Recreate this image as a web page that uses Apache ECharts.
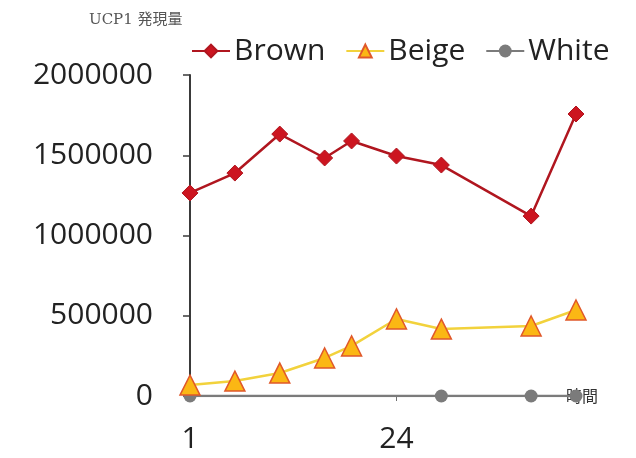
<!DOCTYPE html>
<html>
<head>
<meta charset="utf-8">
<script src="https://cdn.jsdelivr.net/npm/echarts@6/dist/echarts.min.js"></script>
<style>html,body{margin:0;padding:0;background:#fff;}#c{width:636px;height:458px;}</style>
</head>
<body>
<div id="c"></div>
<script>
const hours = [1, 6, 11, 16, 19, 24, 29, 39, 44];
const brown = [1265000, 1389000, 1632000, 1483000, 1589000, 1495000, 1439000, 1121000, 1757000];
const beige = [68000, 93000, 143000, 237000, 312000, 480000, 417000, 436000, 536000];
const whiteHours = [1, 29, 39, 44];
const white = [0, 0, 0, 0];
const xTickLabels = [1, 24];
const yTicks = [0, 500000, 1000000, 1500000, 2000000];

const pairs = (xs, ys) => xs.map((x, i) => [x, ys[i]]);
const chart = echarts.init(document.getElementById('c'));
const font = '"Open Sans", sans-serif';
chart.setOption({
  animation: false,
  backgroundColor: '#fff',
  title: {
    text: 'UCP1 発現量', left: 84, top: 8,
    textStyle: { fontFamily: '"DejaVu Serif", "Noto Sans CJK JP", serif', fontSize: 15, fontWeight: 'normal', color: '#555' }
  },
  legend: {
    data: ['Brown', 'Beige', 'White'],
    left: 186, top: 31, itemWidth: 38, itemHeight: 16, itemGap: 20,
    textStyle: { fontFamily: font, fontSize: 30, color: '#222', padding: [0, 0, 0, -1] }
  },
  grid: { left: 190, right: 60, top: 75, bottom: 62, containLabel: false },
  xAxis: {
    type: 'value', min: 1, max: 44,
    name: '時間', nameLocation: 'end', nameGap: -10,
    nameTextStyle: { fontFamily: '"Noto Sans CJK JP", sans-serif', fontSize: 16, color: '#333', align: 'left', verticalAlign: 'middle' },
    splitLine: { show: false },
    axisLine: { lineStyle: { color: '#6f6f6f', width: 2 } },
    axisTick: { show: true, length: 5, customValues: xTickLabels, lineStyle: { color: '#6f6f6f' } },
    axisLabel: { customValues: xTickLabels, margin: 28, fontFamily: font, fontSize: 30, color: '#222' }
  },
  yAxis: {
    type: 'value', min: 0, max: 2000000, interval: 500000,
    splitLine: { show: false },
    axisLine: { show: true, lineStyle: { color: '#3a3a3a', width: 2 } },
    axisTick: { show: true, length: 7, lineStyle: { color: '#3a3a3a', width: 1.5 } },
    axisLabel: { margin: 37, fontFamily: font, fontSize: 30, color: '#222', formatter: v => String(v) }
  },
  series: [
    {
      name: 'Brown', type: 'line', z: 4, data: pairs(hours, brown),
      symbol: 'diamond', symbolSize: 16,
      lineStyle: { color: '#b0161f', width: 2.5 },
      itemStyle: { color: '#cc1520', borderColor: '#b0161f', borderWidth: 1 }
    },
    {
      name: 'Beige', type: 'line', z: 3, data: pairs(hours, beige),
      symbol: 'triangle', symbolSize: 20,
      lineStyle: { color: '#f2d23c', width: 2.5 },
      itemStyle: { color: '#fbb714', borderColor: '#e0582a', borderWidth: 1.5 }
    },
    {
      name: 'White', type: 'line', z: 1, data: pairs(whiteHours, white),
      symbol: 'circle', symbolSize: 13,
      lineStyle: { color: '#7b7b7b', width: 2.5 },
      itemStyle: { color: '#7b7b7b' }
    }
  ]
});
</script>
</body>
</html>
